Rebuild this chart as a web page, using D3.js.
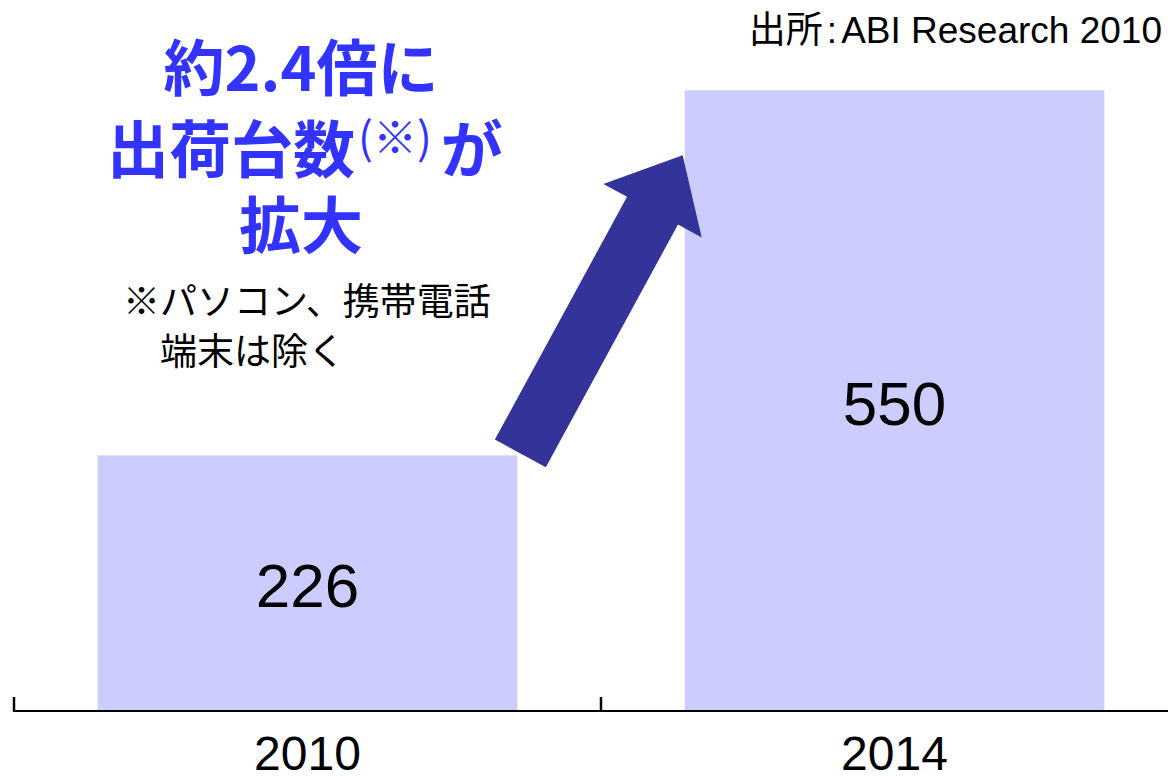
<!DOCTYPE html>
<html>
<head>
<meta charset="utf-8">
<script src="https://cdn.jsdelivr.net/npm/d3@7"></script>
<style>
  html, body { margin: 0; padding: 0; background: #ffffff; }
  svg { display: block; }
</style>
</head>
<body>
<svg id="chart" width="1168" height="776"></svg>
<script>
// ---- data ----
const categories = ["2010", "2014"];
const values = [226, 550];
const valueLabels = ["226", "550"];
const yDomain = [0, 600];
const titleLines = ["約2.4倍に", "出荷台数", "(※)", "が", "拡大"];
const noteLines = ["※パソコン、携帯電話", "端末は除く"];
const sourceParts = ["出所", ":", "ABI Research 2010"];

// ---- setup ----
const W = 1168, H = 776;
const svg = d3.select("#chart");
const latin = "'Liberation Sans', Arial, 'Noto Sans CJK JP', sans-serif";
const cjk = "'Noto Sans CJK JP', 'Noto Sans CJK SC', sans-serif";

const x = d3.scaleBand()
  .domain(categories)
  .range([14, 1188])
  .paddingInner(0.285)
  .paddingOuter(0.1425);

const y = d3.scaleLinear()
  .domain(yDomain)
  .range([710, 34]);

const data = categories.map((c, i) => ({ cat: c, value: values[i], label: valueLabels[i] }));

// ---- bars ----
svg.append("g").selectAll("rect")
  .data(data)
  .join("rect")
  .attr("x", d => x(d.cat))
  .attr("y", d => y(d.value))
  .attr("width", x.bandwidth())
  .attr("height", d => y(0) - y(d.value))
  .attr("fill", "#ccccff");

// ---- value labels ----
svg.append("g").selectAll("text")
  .data(data)
  .join("text")
  .attr("x", d => x(d.cat) + x.bandwidth() / 2)
  .attr("y", d => (y(d.value) + y(0)) / 2)
  .attr("dy", "0.4em")
  .attr("text-anchor", "middle")
  .attr("font-family", latin)
  .attr("font-size", 62)
  .attr("fill", "#000")
  .text(d => d.label);

// ---- axis ----
const axisY = y(0) + 1;
const axisG = svg.append("g").attr("transform", `translate(0,${axisY})`);
axisG.append("line")
  .attr("x1", 13).attr("x2", W)
  .attr("y1", 0).attr("y2", 0)
  .attr("stroke", "#000").attr("stroke-width", 2);
// boundary ticks (between categories)
const boundaries = categories.map(c => x(c) - x.step() * x.paddingInner() / 2);
boundaries[0] = x.range()[0];
axisG.selectAll("line.tick")
  .data(boundaries)
  .join("line")
  .attr("class", "tick")
  .attr("x1", d => d).attr("x2", d => d)
  .attr("y1", 0).attr("y2", -14)
  .attr("stroke", "#000").attr("stroke-width", 2.5);

const labelAxis = d3.axisBottom(x).tickSize(0).tickPadding(0);
const la = svg.append("g")
  .attr("transform", `translate(0,${axisY})`)
  .call(labelAxis);
la.select(".domain").remove();
la.selectAll("text")
  .attr("font-family", latin)
  .attr("font-size", 48)
  .attr("fill", "#000")
  .attr("dy", null)
  .attr("y", 59);

// ---- arrow (from top-right of 2010 bar to top-left of 2014 bar) ----
const tail = [x(categories[0]) + x.bandwidth() + 3, y(values[0]) - 2];
const tip = [x(categories[1]) - 2, y(values[1]) + 65];
const dx = tip[0] - tail[0], dy = tip[1] - tail[1];
const len = Math.hypot(dx, dy);
const u = [dx / len, dy / len];
const n = [-u[1], u[0]];
const shaftHalf = 29, headHalf = 56, headLen = 63;
const P = (a, b) => [tail[0] + u[0] * a + n[0] * b, tail[1] + u[1] * a + n[1] * b];
const shaftLen = len - headLen;
const arrowPts = [
  P(0, -shaftHalf), P(shaftLen, -shaftHalf), P(shaftLen, -headHalf),
  P(len, 0),
  P(shaftLen, headHalf), P(shaftLen, shaftHalf), P(0, shaftHalf)
];
svg.append("path")
  .attr("d", d3.line()(arrowPts) + "Z")
  .attr("fill", "#333399");

// ---- title (blue, bold) ----
const blue = "#3333ff";
svg.append("text")
  .attr("x", 301).attr("y", 91)
  .attr("text-anchor", "middle")
  .attr("font-family", cjk).attr("font-weight", 700)
  .attr("font-size", 61).attr("fill", blue)
  .text(titleLines[0]);

const t2 = svg.append("text")
  .attr("x", 107).attr("y", 173)
  .attr("font-family", cjk).attr("font-weight", 700)
  .attr("font-size", 62).attr("fill", blue);
t2.append("tspan").text(titleLines[1]);
t2.append("tspan").attr("font-size", 44).attr("font-weight", 400).attr("dx", 3).attr("dy", -19).text(titleLines[2]);
t2.append("tspan").attr("dx", 9).attr("dy", 19).text(titleLines[3]);

svg.append("text")
  .attr("x", 301).attr("y", 249)
  .attr("text-anchor", "middle")
  .attr("font-family", cjk).attr("font-weight", 700)
  .attr("font-size", 62).attr("fill", blue)
  .text(titleLines[4]);

// ---- note ----
svg.append("text")
  .attr("x", 123).attr("y", 315)
  .attr("font-family", cjk).attr("font-size", 37).attr("fill", "#000")
  .text(noteLines[0]);
svg.append("text")
  .attr("x", 160).attr("y", 365)
  .attr("font-family", cjk).attr("font-size", 37).attr("fill", "#000")
  .text(noteLines[1]);

// ---- source ----
const src = svg.append("text")
  .attr("x", 1162).attr("y", 43)
  .attr("text-anchor", "end")
  .attr("font-family", latin).attr("font-size", 37).attr("fill", "#000");
src.append("tspan").text(sourceParts[0]);
src.append("tspan").attr("dx", 4).text(sourceParts[1]);
src.append("tspan").attr("dx", 4).text(sourceParts[2]);
</script>
</body>
</html>
